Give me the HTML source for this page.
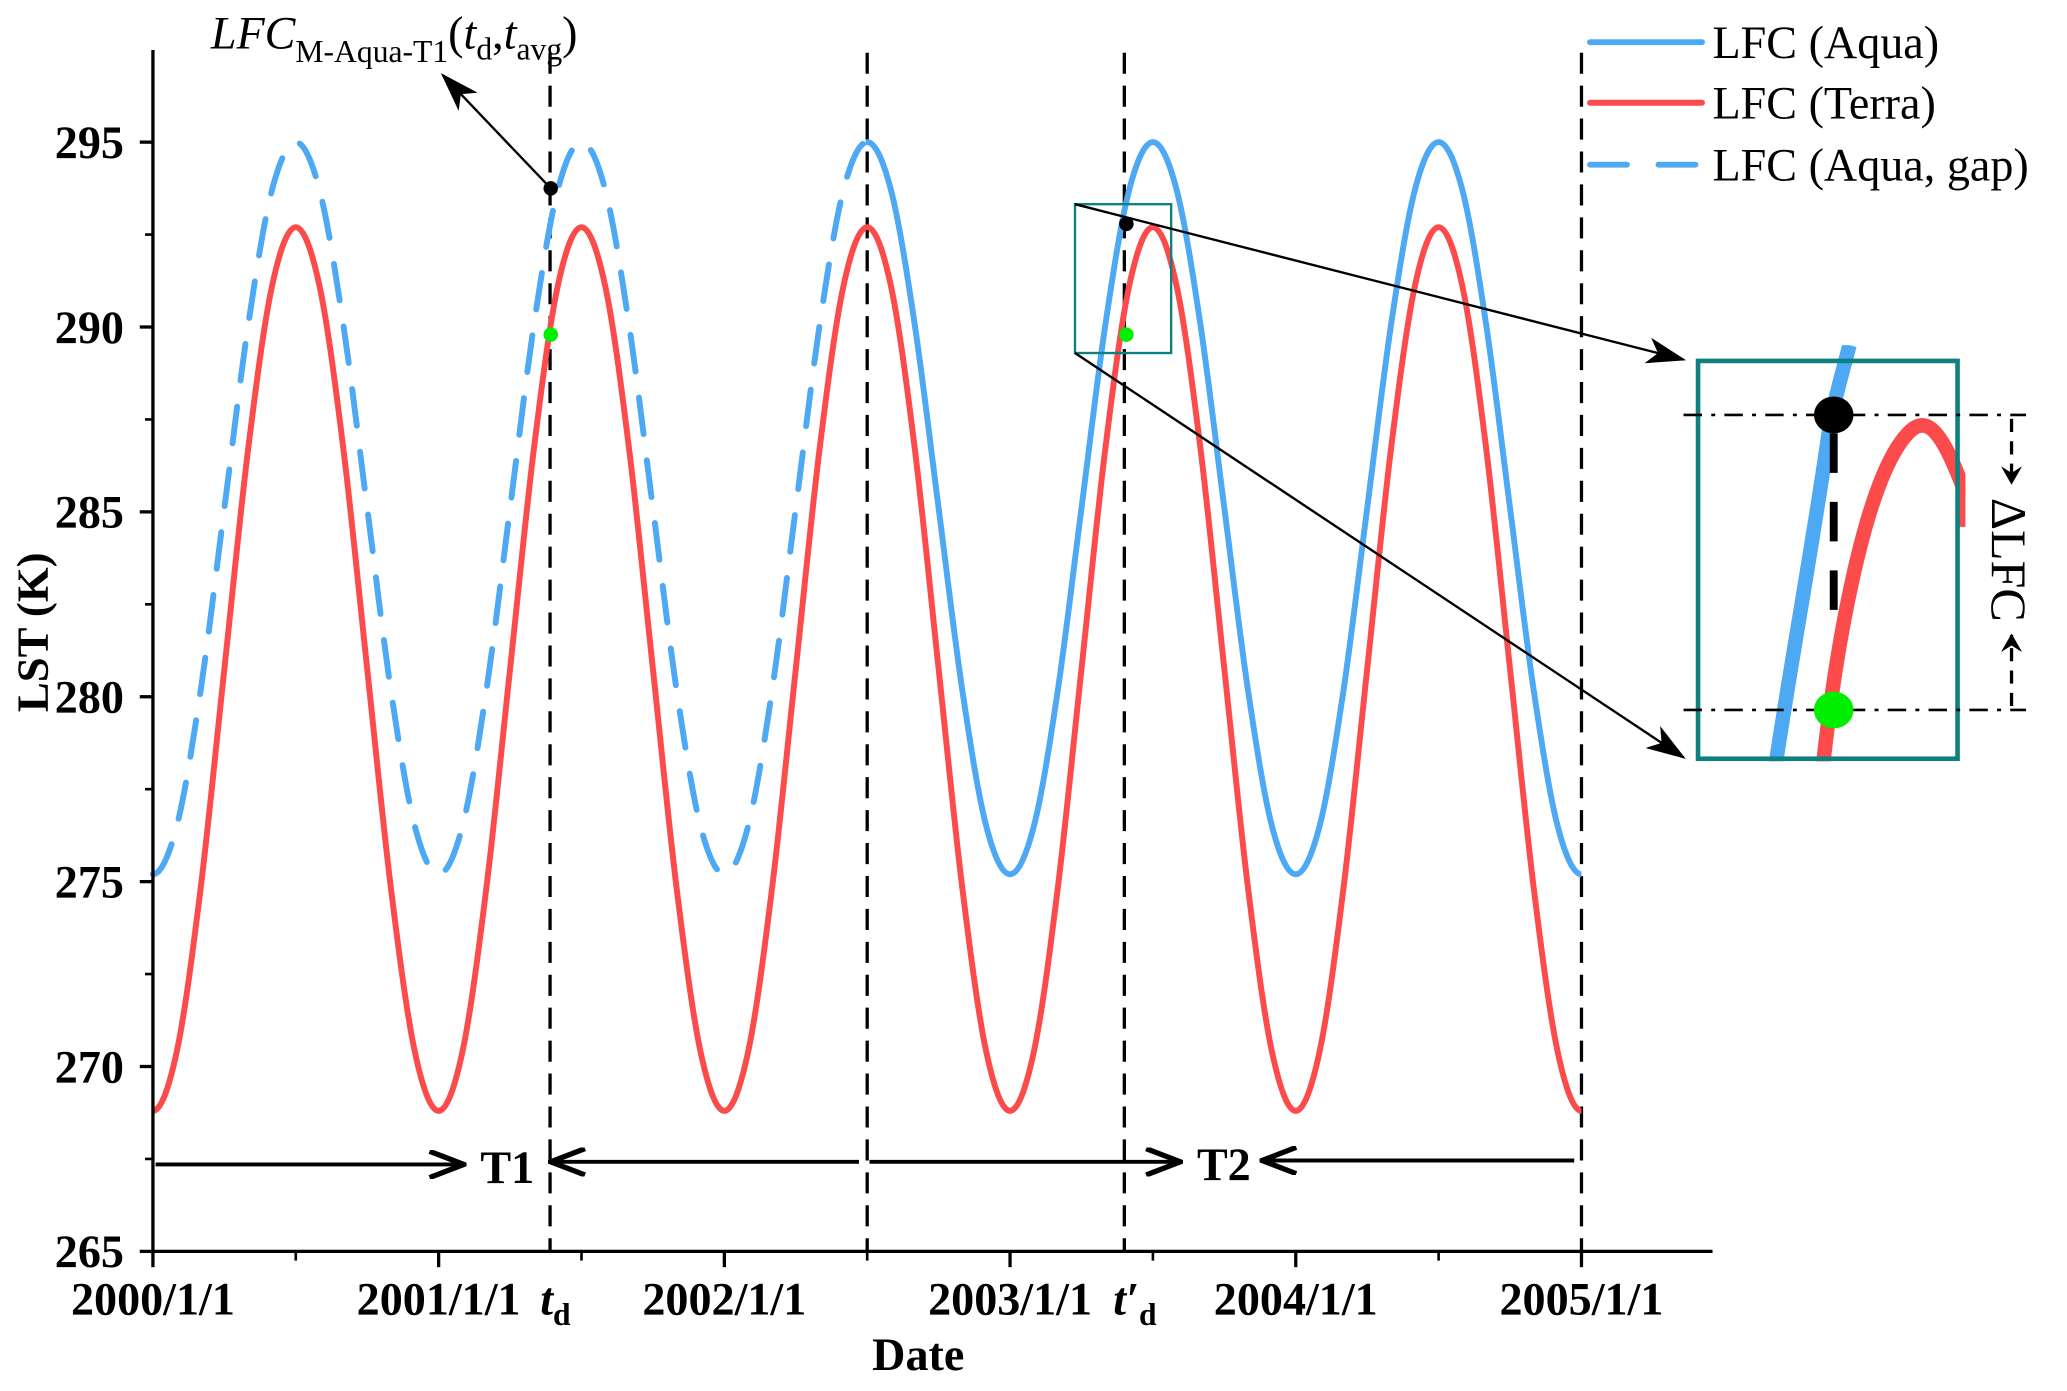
<!DOCTYPE html>
<html><head><meta charset="utf-8"><style>
html,body{margin:0;padding:0;background:#fff;}
svg{display:block;font-family:"Liberation Serif",serif;}
</style></head><body>
<svg id="chart" width="2067" height="1391" viewBox="0 0 1569 1056" xmlns="http://www.w3.org/2000/svg">
<defs>
<clipPath id="gapclip"><rect x="0" y="0" width="657" height="1056"/></clipPath>
<clipPath id="solidclip"><rect x="657" y="0" width="900" height="1056"/></clipPath>
</defs>
<g id="plot"></g>
</svg>
<script>
// Monthly samples (Jan..Dec) for 2000-2004 plus 2005/1/1, LST in K
const months = [];
for (let i = 0; i <= 60; i++) months.push(i / 12);
const terraYear = [268.8,270.4,274.8,280.75,286.7,291.1,292.7,291.1,286.7,280.75,274.8,270.4];
const aquaYear  = [275.2,276.5,280.15,285.1,290.05,293.7,295.0,293.7,290.05,285.1,280.15,276.5];
const terraValues = [].concat(terraYear,terraYear,terraYear,terraYear,terraYear,[268.8]);
const aquaValues  = [].concat(aquaYear,aquaYear,aquaYear,aquaYear,aquaYear,[275.2]);
const yTicks = [265,270,275,280,285,290,295];
const xTickLabels = ["2000/1/1","2001/1/1","2002/1/1","2003/1/1","2004/1/1","2005/1/1"];
const gapEnd = 2.5;
const markerTimes = [1.39, 2.5, 3.4, 5.0];

const X0=116, X1=1300, YB=950;
function xs(t){ return 116 + t*216.9; }
function ys(v){ return 950 - (v-265)*28.07; }

const NS="http://www.w3.org/2000/svg";
const g=document.getElementById('plot');
function el(tag,attrs,parent){const e=document.createElementNS(NS,tag);for(const k in attrs)e.setAttribute(k,attrs[k]);(parent||g).appendChild(e);return e;}
function txt(s,attrs,parent){const e=el('text',attrs,parent);e.textContent=s;return e;}

function spline(pts){
  let d=`M${pts[0][0]},${pts[0][1]}`;
  for(let i=0;i<pts.length-1;i++){
    const p0=pts[i-1]||[2*pts[i][0]-pts[i+1][0],pts[i+1][1]],p1=pts[i],p2=pts[i+1],p3=pts[i+2]||[2*p2[0]-p1[0],p1[1]];
    const c1=[p1[0]+(p2[0]-p0[0])/6,p1[1]+(p2[1]-p0[1])/6];
    const c2=[p2[0]-(p3[0]-p1[0])/6,p2[1]-(p3[1]-p1[1])/6];
    d+=` C${c1[0]},${c1[1]} ${c2[0]},${c2[1]} ${p2[0]},${p2[1]}`;
  }
  return d;
}
function series(vals){
  return spline(months.map((m,i)=>[xs(m),ys(vals[i])]));
}

markerTimes.forEach(t=>{
  const l=el('line',{x1:xs(t),x2:xs(t),y1:40,y2:YB,stroke:'#000','stroke-width':2.5,'stroke-dasharray':'16,9'});
  
  
});

const aquaD=series(aquaValues);
const aquaGap=el('path',{d:aquaD,fill:'none',stroke:'#4da9f4','stroke-width':4.5,'stroke-dasharray':'28,20','stroke-linecap':'round','clip-path':'url(#gapclip)'});


const aquaLine=el('path',{d:aquaD,fill:'none',stroke:'#4da9f4','stroke-width':4.5,'clip-path':'url(#solidclip)'});


const terraLine=el('path',{d:series(terraValues),fill:'none',stroke:'#fb4b4b','stroke-width':4.5});



el('line',{x1:X0,x2:X0,y1:38,y2:YB+2,stroke:'#000','stroke-width':2.5});
el('line',{x1:X0,x2:X1,y1:YB,y2:YB,stroke:'#000','stroke-width':2.5});
yTicks.forEach(v=>{
  el('line',{x1:X0-10,x2:X0,y1:ys(v),y2:ys(v),stroke:'#000','stroke-width':2.5});
  const t=txt(String(v),{x:X0-22,y:ys(v)+12,'text-anchor':'end','font-size':35,'font-weight':'bold'});
  
  
  if(v<295) el('line',{x1:X0-6,x2:X0,y1:ys(v+2.5),y2:ys(v+2.5),stroke:'#000','stroke-width':2});
});
xTickLabels.forEach((s,i)=>{
  el('line',{x1:xs(i),x2:xs(i),y1:YB,y2:YB+12,stroke:'#000','stroke-width':2.5});
  if(i<5) el('line',{x1:xs(i+0.5),x2:xs(i+0.5),y1:YB,y2:YB+7,stroke:'#000','stroke-width':2});
  const t=txt(s,{x:xs(i),y:998,'text-anchor':'middle','font-size':35,'font-weight':'bold'});
  
  
});
</script>
<script>
(function(){
const svg=document.getElementById('chart');
svg.insertAdjacentHTML('beforeend',`
<defs>
<marker id="ah" markerWidth="14" markerHeight="16" refX="13" refY="8" orient="auto" markerUnits="userSpaceOnUse"><path d="M0,0 L14,8 L0,16 L5,8 Z" fill="#000"/></marker>
<marker id="ah2" markerWidth="30" markerHeight="22" refX="28" refY="11" orient="auto" markerUnits="userSpaceOnUse"><path d="M2,1 L28,11 L2,21" fill="none" stroke="#000" stroke-width="4"/></marker>
<marker id="ah3" markerWidth="30" markerHeight="20" refX="28" refY="10" orient="auto" markerUnits="userSpaceOnUse"><path d="M0,0 L30,10 L0,20 L8,10 Z" fill="#000"/></marker>
<clipPath id="zclip"><rect x="1278" y="262" width="214" height="316"/></clipPath>
</defs>
<text transform="translate(36,480) rotate(-90)" text-anchor="middle" font-size="34" font-weight="bold">LST (K)</text>
<text x="697" y="1040" text-anchor="middle" font-size="35" font-weight="bold">Date</text>
<text x="410" y="998" font-size="35" font-weight="bold"><tspan font-style="italic">t</tspan><tspan font-size="24" dy="8">d</tspan></text>
<text x="845" y="998" font-size="35" font-weight="bold"><tspan font-style="italic">t′</tspan><tspan font-size="24" dy="8">d</tspan></text>
<text x="160" y="37" font-size="35"><tspan font-style="italic">LFC</tspan><tspan font-size="24" dy="10">M-Aqua-T1</tspan><tspan dy="-10">(</tspan><tspan font-style="italic">t</tspan><tspan font-size="24" dy="8">d</tspan><tspan dy="-8">,</tspan><tspan font-style="italic">t</tspan><tspan font-size="24" dy="8">avg</tspan><tspan dy="-8">)</tspan></text>
<line x1="418" y1="143" x2="336" y2="57" stroke="#000" stroke-width="1.8" marker-end="url(#ah3)"/>
<circle cx="418" cy="143" r="5.5" fill="#000"/>
<circle cx="418" cy="254" r="5.5" fill="#00ee00"/>
<circle cx="855" cy="170" r="5.5" fill="#000"/>
<circle cx="855" cy="254" r="5.5" fill="#00ee00"/>
<rect x="816" y="155" width="73" height="113" fill="none" stroke="#0e8080" stroke-width="1.8"/>
<line x1="816" y1="155" x2="1278" y2="273" stroke="#000" stroke-width="1.8" marker-end="url(#ah3)"/>
<line x1="816" y1="268" x2="1278" y2="575" stroke="#000" stroke-width="1.8" marker-end="url(#ah3)"/>
<g>
<g clip-path="url(#zclip)">
<path d="M1348,580 C1360,500 1375,420 1388,330 C1392,305 1398,285 1404,262" fill="none" stroke="#4da9f4" stroke-width="11"/>
<path d="M1384,580 C1395,480 1415,380 1440,340 C1458,312 1470,315 1492,375 L1492,400" fill="none" stroke="#fb4b4b" stroke-width="11"/>
</g>
<line x1="1392" y1="292" x2="1392" y2="560" stroke="#000" stroke-width="6" stroke-dasharray="0,37,30,22,30,22,30,200"/>
<rect x="1289" y="274" width="197" height="302" fill="none" stroke="#0e8080" stroke-width="3.5"/>
<line x1="1278" y1="315" x2="1538" y2="315" stroke="#000" stroke-width="2" stroke-dasharray="14,7,3,7"/>
<line x1="1278" y1="539" x2="1538" y2="539" stroke="#000" stroke-width="2" stroke-dasharray="14,7,3,7"/>
<ellipse cx="1392" cy="315" rx="15" ry="14" fill="#000"/>
<ellipse cx="1392" cy="539" rx="15" ry="14" fill="#00ee00"/>
<line x1="1527" y1="318" x2="1527" y2="367" stroke="#000" stroke-width="2.5" stroke-dasharray="10,7" marker-end="url(#ah)"/>
<line x1="1527" y1="536" x2="1527" y2="482" stroke="#000" stroke-width="2.5" stroke-dasharray="10,7" marker-end="url(#ah)"/>
<text transform="translate(1512,425) rotate(90)" text-anchor="middle" font-size="38">ΔLFC</text>
</g>
<g>
<line x1="118" y1="884" x2="352" y2="884" stroke="#000" stroke-width="3" marker-end="url(#ah2)"/>
<text x="385" y="898" text-anchor="middle" font-size="35" font-weight="bold">T1</text>
<line x1="652" y1="882" x2="418" y2="882" stroke="#000" stroke-width="3" marker-end="url(#ah2)"/>
<line x1="660" y1="882" x2="896" y2="882" stroke="#000" stroke-width="3" marker-end="url(#ah2)"/>
<text x="929" y="896" text-anchor="middle" font-size="35" font-weight="bold">T2</text>
<line x1="1195" y1="881" x2="958" y2="881" stroke="#000" stroke-width="3" marker-end="url(#ah2)"/>
</g>
<g>
<line x1="1207" y1="32" x2="1292" y2="32" stroke="#4da9f4" stroke-width="4.5" stroke-linecap="round"/>
<text x="1300" y="44" font-size="35">LFC (Aqua)</text>
<line x1="1207" y1="78" x2="1292" y2="78" stroke="#fb4b4b" stroke-width="4.5" stroke-linecap="round"/>
<text x="1300" y="90" font-size="35">LFC (Terra)</text>
<line x1="1207" y1="125" x2="1292" y2="125" stroke="#4da9f4" stroke-width="4.5" stroke-linecap="round" stroke-dasharray="28,24"/>
<text x="1300" y="137" font-size="35">LFC (Aqua, gap)</text>
</g>`);
})();
</script>
</body></html>
